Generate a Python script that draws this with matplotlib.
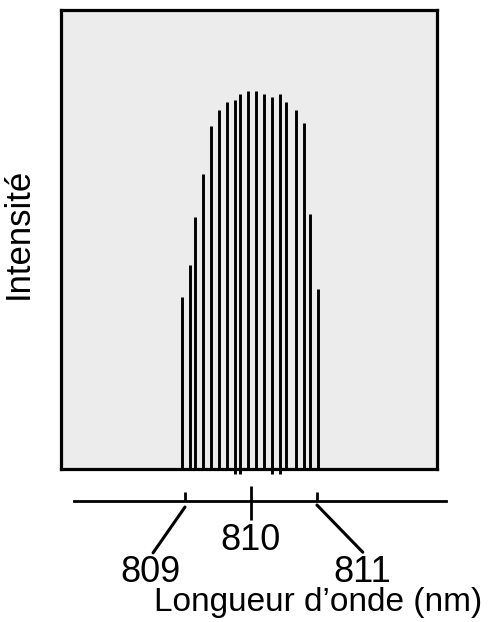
import numpy as np
import matplotlib.pyplot as plt

plt.rcParams['font.family'] = ['Liberation Sans', 'DejaVu Sans']

# raies du spectre (nm) et intensités relatives (0..1 = hauteur du cadre)
wavelength = [808.955, 809.070, 809.152, 809.273, 809.394, 809.515, 809.636,
              809.758, 809.838, 809.959, 810.080, 810.202, 810.323, 810.444,
              810.524, 810.686, 810.808, 810.888, 811.009]
intensity = [0.375, 0.444, 0.550, 0.642, 0.747, 0.782, 0.800, 0.805, 0.817,
             0.823, 0.823, 0.817, 0.811, 0.817, 0.800, 0.782, 0.753, 0.556,
             0.393]
# raies qui depassent un peu sous le cadre
long_lines = [7, 8, 12, 13]

ticks = [809, 810, 811]
tick_labels = ['809', '810', '811']

W, H = 497, 622
fig = plt.figure(figsize=(W/100, H/100), dpi=100)

x0, x1 = 807.12, 812.82

ax = fig.add_axes([61/W, 1-469/H, (437-61)/W, (469-10)/H])
ax.set_facecolor('#ececec')
ax.set_xlim(x0, x1)
ax.set_ylim(0, 1)
for s in ax.spines.values():
    s.set_linewidth(2.3)
ax.set_xticks([])
ax.set_yticks([])

lo = [-0.01 if i in long_lines else 0 for i in range(len(wavelength))]
ax.vlines(wavelength, lo, intensity, colors='black', linewidth=2.1, clip_on=False)

ax.set_ylabel('Intensité', fontsize=25)
ax.yaxis.set_label_coords(-(61-35)/376, 0.514)

# echelle des longueurs d'onde sous le cadre
ax2 = fig.add_axes([61/W, 1-560/H, (437-61)/W, 80/H])
ax2.set_xlim(x0, x1)
ax2.set_ylim(0, 80)
ax2.axis('off')
ax2.plot([x0 + (74-61)/66, x0 + (446-61)/66], [59, 59], color='black',
         linewidth=2, clip_on=False)

# 809 et 811 : petites graduations + traits de rappel obliques
ax2.vlines([ticks[0], ticks[2]], 59, 68, colors='black', linewidth=2)
ax2.vlines(ticks[1], 40, 74, colors='black', linewidth=2)

ax2.annotate('', xy=(ticks[0], 53), xytext=(-23, -33), textcoords='offset points',
             arrowprops=dict(arrowstyle='-', color='black', lw=2.2, shrinkA=0, shrinkB=0))
ax2.annotate('', xy=(ticks[2], 55), xytext=(33, -34), textcoords='offset points',
             arrowprops=dict(arrowstyle='-', color='black', lw=2.2, shrinkA=0, shrinkB=0))

ax2.text(ticks[1], 20, tick_labels[1], ha='center', va='center', fontsize=26)
ax2.text(ticks[0] - 0.53, -13, tick_labels[0], ha='center', va='center', fontsize=26)
ax2.text(ticks[2] + 0.68, -13, tick_labels[2], ha='center', va='center', fontsize=26)

fig.text(318/W, 1-603/H, 'Longueur d\u2019onde (nm)', ha='center', va='center',
         fontsize=24)

fig.savefig('out.png', dpi=100)
